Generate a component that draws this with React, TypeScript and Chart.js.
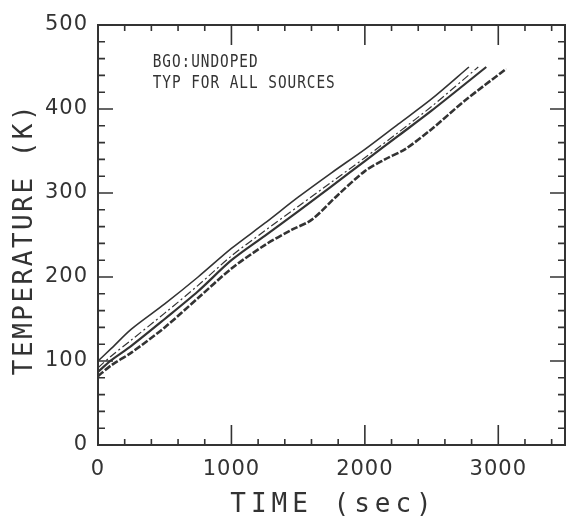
import React, { useEffect, useRef } from "react";
import { Chart, registerables } from "chart.js";

Chart.register(...registerables);

// Series (time in s, temperature in K)
const timeA = [0, 100, 250, 500, 750, 1000, 1250, 1500, 1750, 2000, 2250, 2500, 2780];
const tempA = [100, 115, 138, 168, 200, 234, 264, 295, 324, 352, 382, 412, 450];

const timeB = [0, 100, 250, 500, 750, 1000, 1250, 1500, 1750, 2000, 2250, 2500, 2850];
const tempB = [92, 106, 125, 157, 190, 225, 255, 284, 313, 342, 372, 403, 450];

const timeC = [0, 100, 250, 500, 750, 1000, 1250, 1500, 1750, 2000, 2250, 2500, 2910];
const tempC = [87, 101, 118, 150, 183, 220, 249, 278, 308, 338, 368, 398, 450];

const timeD = [0, 100, 250, 500, 750, 1000, 1250, 1450, 1600, 1800, 2000, 2150, 2300, 2500, 2750, 3060];
const tempD = [82, 95, 110, 140, 175, 210, 238, 256, 268, 298, 326, 340, 352, 376, 410, 448];

const xTickLabels = [0, 1000, 2000, 3000];
const yTickLabels = [0, 100, 200, 300, 400, 500];
const xMinorStep = 200;
const yMinorStep = 20;

const annotationLines = ["BGO:UNDOPED", "TYP FOR ALL SOURCES"];
const annotationPos = [
  { x: 410, y: 456 },
  { x: 410, y: 431 },
];
const xTitle = "TIME (sec)";
const yTitle = "TEMPERATURE (K)";

const INK = "#333333";

const toPts = (xs: number[], ys: number[]) => xs.map((x, i) => ({ x, y: ys[i] }));

export default function App() {
  const ref = useRef<HTMLCanvasElement | null>(null);

  useEffect(() => {
    if (!ref.current) return;

    const framePlugin = {
      id: "frame",
      beforeDraw(chart: any) {
        (chart.ctx as any).letterSpacing = "1px";
      },
      afterDatasetsDraw(chart: any) {
        const ctx = chart.ctx;
        const { left, right, top, bottom } = chart.chartArea;
        const xs = chart.scales.x;
        const ys = chart.scales.y;
        ctx.save();
        (ctx as any).letterSpacing = "0px";
        ctx.strokeStyle = INK;
        ctx.lineWidth = 2;
        ctx.strokeRect(left, top, right - left, bottom - top);
        ctx.lineWidth = 1.6;
        ctx.beginPath();
        for (let v = 0; v <= xs.max; v += xMinorStep) {
          const px = xs.getPixelForValue(v);
          const major = xTickLabels.includes(v);
          const len = major ? 20 : 6;
          ctx.moveTo(px, bottom);
          ctx.lineTo(px, bottom - len);
          ctx.moveTo(px, top);
          ctx.lineTo(px, top + len);
        }
        for (let v = 0; v <= ys.max; v += yMinorStep) {
          const py = ys.getPixelForValue(v);
          const major = yTickLabels.includes(v);
          const len = major ? 15 : 7;
          ctx.moveTo(left, py);
          ctx.lineTo(left + len, py);
          ctx.moveTo(right, py);
          ctx.lineTo(right - len, py);
        }
        ctx.stroke();

        // annotation text (condensed plotter-like lettering)
        ctx.fillStyle = INK;
        ctx.font = "18px 'DejaVu Sans Mono'";
        (ctx as any).letterSpacing = "1.2px";
        ctx.textAlign = "left";
        ctx.textBaseline = "middle";
        annotationLines.forEach((t, i) => {
          ctx.save();
          ctx.translate(xs.getPixelForValue(annotationPos[i].x), ys.getPixelForValue(annotationPos[i].y));
          ctx.scale(0.8, 1);
          ctx.fillText(t, 0, 0);
          ctx.restore();
        });

        // axis titles
        ctx.font = "26px 'DejaVu Sans Mono'";
        ctx.textAlign = "center";
        (ctx as any).letterSpacing = "5px";
        ctx.fillText(xTitle, (left + right) / 2 + 2, 505);
        ctx.translate(25, (top + bottom) / 2 + 4);
        ctx.rotate(-Math.PI / 2);
        (ctx as any).letterSpacing = "2.5px";
        ctx.fillText(yTitle, 0, 0);
        ctx.restore();
      },
    };

    const chart = new Chart(ref.current, {
      type: "line",
      data: {
        datasets: [
          {
            data: toPts(timeA, tempA),
            borderColor: INK,
            borderWidth: 1.6,
            pointRadius: 0,
            tension: 0.3,
          },
          {
            data: toPts(timeB, tempB),
            borderColor: INK,
            borderWidth: 1.2,
            borderDash: [8, 3, 2, 3],
            pointRadius: 0,
            tension: 0.3,
          },
          {
            data: toPts(timeC, tempC),
            borderColor: INK,
            borderWidth: 2.2,
            pointRadius: 0,
            tension: 0.3,
          },
          {
            data: toPts(timeD, tempD),
            borderColor: INK,
            borderWidth: 2.6,
            borderDash: [7, 2],
            pointRadius: 0,
            tension: 0.3,
          },
        ],
      },
      options: {
        responsive: false,
        animation: false,
        events: [],
        layout: { padding: { top: 25, right: 2, left: 0, bottom: 0 } },
        plugins: {
          legend: { display: false },
          tooltip: { enabled: false },
          title: { display: false },
        },
        scales: {
          x: {
            type: "linear",
            min: 0,
            max: 3500,
            grid: { display: false, drawTicks: false },
            border: { display: false },
            afterBuildTicks: (scale: any) => {
              scale.ticks = xTickLabels.map((v) => ({ value: v }));
            },
            afterFit: (scale: any) => {
              scale.height = 72;
            },
            ticks: {
              padding: 12,
              color: INK,
              maxRotation: 0,
              font: { family: "'DejaVu Sans'", size: 21 },
              callback: (v: any) => String(v),
            },
          },
          y: {
            type: "linear",
            min: 0,
            max: 500,
            grid: { display: false, drawTicks: false },
            border: { display: false },
            afterBuildTicks: (scale: any) => {
              scale.ticks = yTickLabels.map((v) => ({ value: v }));
            },
            afterFit: (scale: any) => {
              scale.width = 98;
            },
            ticks: {
              padding: 10,
              color: INK,
              font: { family: "'DejaVu Sans'", size: 21 },
              callback: (v: any) => String(v),
            },
          },
        },
      },
      plugins: [framePlugin],
    });

    return () => chart.destroy();
  }, []);

  return (
    <div style={{ position: "absolute", left: 0, top: 0, width: 567, height: 517, background: "#fff" }}>
      <canvas ref={ref} width={567} height={517} style={{ width: 567, height: 517 }} />
    </div>
  );
}
